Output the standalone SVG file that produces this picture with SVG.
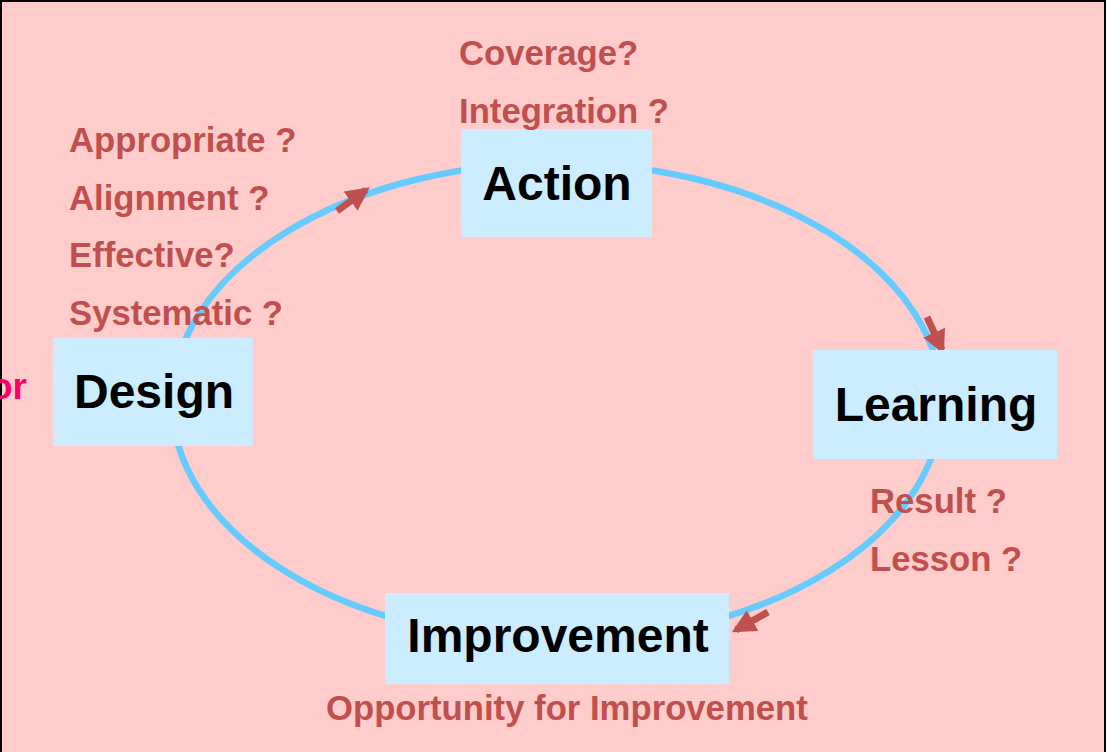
<svg xmlns="http://www.w3.org/2000/svg" width="1106" height="752" viewBox="0 0 1106 752">
  <defs>
    <style>
      .node rect { fill: #CCECFF; }
      .node text { font-family: "Liberation Sans", Arial, sans-serif; font-weight: bold; font-size: 48px; fill: #000000; text-anchor: middle; }
      .label { font-family: "Liberation Sans", Arial, sans-serif; font-weight: bold; font-size: 34.7px; fill: #C0504D; }
      .cycle { fill: none; stroke: #66CCFF; stroke-width: 6.5; }
      .arrow { fill: none; stroke: #C0504D; stroke-width: 7; marker-end: url(#head); }
    </style>
    <marker id="head" viewBox="0 0 10 10" refX="8" refY="5" markerWidth="3.4" markerHeight="3.4" orient="auto" markerUnits="strokeWidth">
      <path d="M0,0 L10,5 L0,10 Z" fill="#C0504D"/>
    </marker>
  </defs>
  <rect x="1" y="1" width="1104" height="800" fill="#FFCCCC" stroke="#000000" stroke-width="2"/>
  <text x="27" y="399" font-family="Liberation Sans, Arial, sans-serif" font-weight="bold" font-size="37" fill="#FF0066" text-anchor="end">or</text>

  <g id="connectors">
    <ellipse class="cycle" cx="557" cy="402" rx="385" ry="239"/>
    <line class="arrow" x1="337" y1="211" x2="366" y2="190"/>
    <line class="arrow" x1="927" y1="317" x2="942" y2="350"/>
    <line class="arrow" x1="768" y1="612" x2="736" y2="630"/>
  </g>

  <g id="node-action" class="node">
    <rect x="461" y="129" width="191" height="108"/>
    <text x="557" y="200">Action</text>
  </g>
  <g id="node-design" class="node">
    <rect x="53" y="338" width="200" height="108"/>
    <text x="154" y="408">Design</text>
  </g>
  <g id="node-learning" class="node">
    <rect x="813" y="350" width="244" height="109"/>
    <text x="936" y="421">Learning</text>
  </g>
  <g id="node-improvement" class="node">
    <rect x="385" y="593" width="344" height="91"/>
    <text x="558" y="652">Improvement</text>
  </g>

  <g id="labels">
    <text class="label" x="459" y="65">Coverage?</text>
    <text class="label" x="459" y="123">Integration ?</text>
    <text class="label" x="69" y="152">Appropriate ?</text>
    <text class="label" x="69" y="210">Alignment ?</text>
    <text class="label" x="69" y="267">Effective?</text>
    <text class="label" x="69" y="325">Systematic ?</text>
    <text class="label" x="870" y="513">Result ?</text>
    <text class="label" x="870" y="571">Lesson ?</text>
    <text class="label" x="326" y="720">Opportunity for Improvement</text>
  </g>
</svg>
